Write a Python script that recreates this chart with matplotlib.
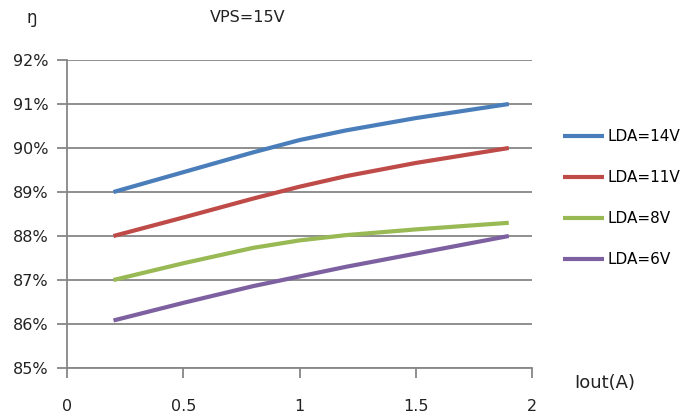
import matplotlib
matplotlib.use('Agg')
import matplotlib.pyplot as plt
from matplotlib.ticker import FuncFormatter

# output current (A) and efficiency (%)
iout = [0.2, 0.5, 0.8, 1.0, 1.2, 1.5, 1.9]
eff_14v = [89.0, 89.45, 89.9, 90.18, 90.4, 90.68, 91.0]
eff_11v = [88.0, 88.42, 88.85, 89.12, 89.36, 89.66, 90.0]
eff_8v = [87.0, 87.38, 87.73, 87.9, 88.02, 88.15, 88.3]
eff_6v = [86.08, 86.48, 86.86, 87.08, 87.3, 87.6, 88.0]

labels = ['LDA=14V', 'LDA=11V', 'LDA=8V', 'LDA=6V']
colors = ['#4A7EBB', '#BE4B48', '#98B954', '#7D60A0']
yticks = [85, 86, 87, 88, 89, 90, 91, 92]
xticks = [0, 0.5, 1, 1.5, 2]

fig = plt.figure(figsize=(6.85, 4.13), dpi=100)
ax = fig.add_axes([67/685, 1-368/413, 465/685, 308/413])

for y, lab, c in zip([eff_14v, eff_11v, eff_8v, eff_6v], labels, colors):
    ax.plot(iout, y, color=c, lw=3, label=lab, solid_capstyle='butt')

ax.set_xlim(0, 2)
ax.set_ylim(85, 92)
ax.set_yticks(yticks)
ax.set_xticks(xticks)
ax.yaxis.set_major_formatter(FuncFormatter(lambda v, p: f'{v:.0f}%'))
ax.xaxis.set_major_formatter(FuncFormatter(lambda v, p: f'{v:g}'))
ax.grid(axis='y', color='#868686', lw=1.3)
ax.set_axisbelow(True)
for s in ['top', 'right']:
    ax.spines[s].set_visible(False)
for s in ['left', 'bottom']:
    ax.spines[s].set_color('#868686')
    ax.spines[s].set_linewidth(1.3)
ax.tick_params(axis='both', colors='#868686', labelcolor='#222222', labelsize=11.5, length=7, width=1.3)
ax.tick_params(axis='x', pad=15)
ax.tick_params(axis='y', pad=6)

ax.legend(loc='upper left', bbox_to_anchor=(563/685, 1-129/413), bbox_transform=fig.transFigure,
          frameon=False, fontsize=11, handlelength=2.7, handletextpad=0.2, labelspacing=1.7,
          borderaxespad=0, borderpad=0)

fig.text(32/685, 1-18/413, 'ŋ', fontsize=12, ha='center', va='center', color='#222222')
fig.text(248/685, 1-18/413, 'VPS=15V', fontsize=11.5, ha='center', va='center', color='#222222')
fig.text(605/685, 1-383/413, 'Iout(A)', fontsize=13, ha='center', va='center', color='#222222')

fig.savefig('out.png', dpi=100)
